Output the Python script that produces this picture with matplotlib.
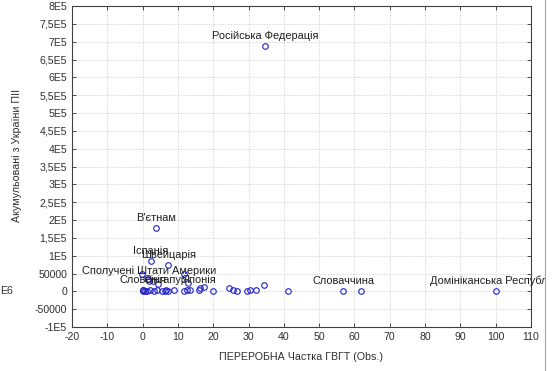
import numpy as np
import matplotlib.pyplot as plt
from matplotlib.patches import Rectangle
from matplotlib.lines import Line2D

plt.rcParams['font.family'] = ['Liberation Sans', 'DejaVu Sans']

# labelled countries
lab_names = ['Російська Федерація', "В'єтнам", 'Іспанія', 'Швейцарія',
             'Сполучені Штати Америки', 'Словенія', 'Сінгапур', 'Японія',
             'Словаччина', 'Домініканська Республіка']
lab_x = [34.6, 3.8, 2.4, 7.3, 1.8, 0.2, 6.5, 16.0, 56.8, 100.0]
lab_y = [688000, 178000, 85000, 73000, 28000, 3000, 3000, 4000, 2000, 1000]

# unlabelled points
pts_x = [0.0, 0.2, 0.6, 1.2, 2.0, 3.3, 4.2, 5.4, 6.4, 7.3, 8.8, 11.6, 12.5, 13.0,
         13.5, 16.3, 17.5, 19.8, 24.4, 25.6, 26.8, 29.6, 30.3, 32.0, 34.3, 41.2,
         62.0, -0.3, 11.6, 1.5, 3.0, 4.5]
pts_y = [2000, 3000, 1000, 2000, 4000, 2000, 3000, 2000, 1000, 2000, 3000, 2000,
         4000, 24000, 3000, 10000, 12000, 2000, 8000, 4000, 2000, 2000, 3000, 3000,
         17000, 2000, 2000, 48000, 48000, 34000, 30000, 20000]

yticks = [-100000, -50000, 0, 50000, 100000, 150000, 200000, 250000, 300000,
          350000, 400000, 450000, 500000, 550000, 600000, 650000, 700000,
          750000, 800000]
ytick_labels = ['-1E5', '-50000', '0', '50000', '1E5', '1,5E5', '2E5', '2,5E5',
                '3E5', '3,5E5', '4E5', '4,5E5', '5E5', '5,5E5', '6E5', '6,5E5',
                '7E5', '7,5E5', '8E5']
xticks = list(range(-20, 111, 10))

fig = plt.figure(figsize=(5.52, 3.71), dpi=100)
ax = fig.add_axes([0.1304, 0.1186, 0.8315, 0.8652])

blue = '#2020c8'
ax.plot(pts_x + lab_x, pts_y + lab_y, 'o', mfc='none', mec=blue, ms=4.0, mew=0.8,
        zorder=3)
for name, x, y in zip(lab_names, lab_x, lab_y):
    ax.annotate(name, (x, y), xytext=(0, 3.5), textcoords='offset points',
                ha='center', va='bottom', fontsize=7.9, color='#202020',
                annotation_clip=False)

ax.set_xlim(-20, 110)
ax.set_ylim(-100000, 800000)
ax.set_xticks(xticks)
ax.set_xticklabels([str(t) for t in xticks])
ax.set_yticks(yticks)
ax.set_yticklabels(ytick_labels)
ax.tick_params(direction='in', length=3, width=0.6, labelsize=7.6,
               colors='#303030', top=True, right=True)
ax.grid(True, ls=(0, (2, 2)), lw=0.5, color='#c8c8c8')
for s in ax.spines.values():
    s.set_linewidth(0.8)
    s.set_color('#404040')

ax.set_xlabel('ПЕРЕРОБНА Частка ГВГТ (Obs.)', fontsize=7.7, color='#303030',
              labelpad=7)
fig.text(0.031, 0.58, 'Акумульовані з України ПІІ', rotation=90, fontsize=7.7,
         color='#303030', ha='center', va='center')
fig.text(0.0, 1 - 291 / 371, 'E6', fontsize=7.6, color='#303030', va='center')

# right frame of the window clips the last label
fig.patches.append(Rectangle((545 / 552, 0), 1, 1, transform=fig.transFigure,
                             facecolor='white', edgecolor='none', zorder=10))
fig.lines.append(Line2D([545 / 552, 545 / 552], [0, 1], transform=fig.transFigure,
                        color='#a0a0a0', lw=0.8, zorder=11))

fig.savefig('out.png', dpi=100)
